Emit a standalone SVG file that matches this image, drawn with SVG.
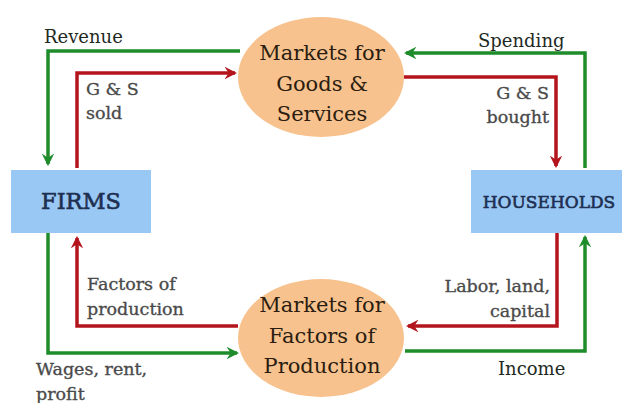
<svg xmlns="http://www.w3.org/2000/svg" width="622" height="403" viewBox="0 0 622 403">
  <defs>
    <marker id="arrow-green" viewBox="0 0 12 12" refX="10" refY="6" markerWidth="3.6" markerHeight="3.6" orient="auto" markerUnits="strokeWidth">
      <path d="M0,0 L12,6 L0,12 L4,6 Z" fill="#1e8c2a"/>
    </marker>
    <marker id="arrow-red" viewBox="0 0 12 12" refX="10" refY="6" markerWidth="3.6" markerHeight="3.6" orient="auto" markerUnits="strokeWidth">
      <path d="M0,0 L12,6 L0,12 L4,6 Z" fill="#b4151c"/>
    </marker>
  </defs>
  <style>
    .box { fill: #99c8f5; }
    .market { fill: #f7c28e; }
    .green { fill: none; stroke: #1e8c2a; stroke-width: 3.5; stroke-linejoin: miter; marker-end: url(#arrow-green); }
    .red { fill: none; stroke: #b4151c; stroke-width: 3.5; stroke-linejoin: miter; marker-end: url(#arrow-red); }
    .title { font-family: "DejaVu Serif", "Liberation Serif", serif; fill: #2b1d10; font-size: 21px; text-anchor: middle; }
    .agent { font-family: "DejaVu Serif", "Liberation Serif", serif; fill: #1e2f50; stroke: #1e2f50; stroke-width: 0.6; text-anchor: middle; }
    .lbl { font-family: "DejaVu Serif", "Liberation Serif", serif; fill: #4a4a4a; stroke: #4a4a4a; stroke-width: 0.35; font-size: 17.5px; }
    .flow { font-family: "DejaVu Serif", "Liberation Serif", serif; fill: #1f2a1f; font-size: 18px; }
    .end { text-anchor: end; }
  </style>

  <g id="connectors">
    <!-- revenue: goods market to firms -->
    <path class="green" d="M240,51 H48 V164"/>
    <!-- goods and services sold: firms to goods market -->
    <path class="red" d="M77,168 V73 H235"/>
    <!-- spending: households to goods market -->
    <path class="green" d="M585,168 V53 H406"/>
    <!-- goods and services bought: goods market to households -->
    <path class="red" d="M404,77 H556 V166"/>
    <!-- factors of production: factor market to firms -->
    <path class="red" d="M238,326 H77 V238"/>
    <!-- wages, rent, profit: firms to factor market -->
    <path class="green" d="M48,233 V353 H237"/>
    <!-- labor, land, capital: households to factor market -->
    <path class="red" d="M557,233 V326 H408"/>
    <!-- income: factor market to households -->
    <path class="green" d="M405,351 H585 V237"/>
  </g>

  <g id="goods-market">
    <ellipse class="market" cx="321" cy="77" rx="83" ry="60"/>
    <text class="title" x="322" y="60">Markets for</text>
    <text class="title" x="322" y="91">Goods &amp;</text>
    <text class="title" x="322" y="121">Services</text>
  </g>

  <g id="factor-market">
    <ellipse class="market" cx="321" cy="338" rx="83" ry="59"/>
    <text class="title" x="322" y="312">Markets for</text>
    <text class="title" x="322" y="343">Factors of</text>
    <text class="title" x="322" y="373">Production</text>
  </g>

  <g id="firms">
    <rect class="box" x="11" y="170" width="140" height="63"/>
    <text class="agent" x="81" y="209" font-size="22.5">FIRMS</text>
  </g>

  <g id="households">
    <rect class="box" x="471" y="170" width="151" height="63"/>
    <text class="agent" x="549" y="208" font-size="17">HOUSEHOLDS</text>
  </g>

  <g id="labels">
    <text class="flow" x="44" y="43">Revenue</text>
    <text class="lbl" x="86" y="95">G &amp; S</text>
    <text class="lbl" x="86" y="119">sold</text>
    <text class="flow" x="478" y="47">Spending</text>
    <text class="lbl end" x="549" y="99">G &amp; S</text>
    <text class="lbl end" x="549" y="123">bought</text>
    <text class="lbl" x="87" y="290">Factors of</text>
    <text class="lbl" x="87" y="315">production</text>
    <text class="lbl" x="36" y="375">Wages, rent,</text>
    <text class="lbl" x="36" y="400">profit</text>
    <text class="lbl end" x="550" y="292">Labor, land,</text>
    <text class="lbl end" x="550" y="317">capital</text>
    <text class="flow" x="498" y="375">Income</text>
  </g>
</svg>
